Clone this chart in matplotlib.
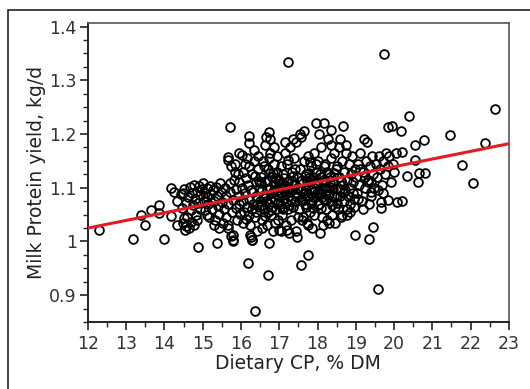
import matplotlib
matplotlib.use("Agg")
import matplotlib.pyplot as plt
from matplotlib.ticker import MultipleLocator, FuncFormatter
from matplotlib.patches import Rectangle

# dietary crude protein (% DM) and milk protein yield (kg/d), one pair per treatment mean
cp = [
    # sparse low-CP end
    12.28, 13.17, 13.48, 13.39, 13.66, 13.85, 13.86, 13.98, 14.16, 14.25, 14.18, 14.34, 14.34,
    14.49, 14.51, 14.53, 14.88, 15.37,
    # 14.4 - 15.0
    14.42, 14.45, 14.48, 14.50, 14.55, 14.57, 14.60, 14.62, 14.64, 14.66, 14.68, 14.70, 14.72,
    14.74, 14.76, 14.78, 14.80, 14.82, 14.84, 14.86, 14.88, 14.90, 14.92, 14.94,
    # 15.0 - 15.5
    14.97, 15.00, 15.02, 15.05, 15.07, 15.10, 15.12, 15.15, 15.17, 15.20, 15.22, 15.25, 15.27,
    15.30, 15.32, 15.35, 15.37, 15.40, 15.42, 15.45, 15.47, 15.50, 15.52, 15.55, 15.30, 15.43, 15.12,
    # 15.5 - 16.0
    15.57, 15.60, 15.62, 15.65, 15.67, 15.70, 15.72, 15.75, 15.77, 15.78, 15.80, 15.82, 15.84,
    15.86, 15.88, 15.90, 15.92, 15.94, 15.96, 15.98, 15.66, 15.74, 15.85, 15.95, 15.70, 15.67,
    15.67, 15.96, 16.03, 15.79, 15.79,
    # 16.0 - 16.5
    16.02, 16.04, 16.06, 16.08, 16.10, 16.12, 16.14, 16.16, 16.18, 16.20, 16.22, 16.24, 16.26,
    16.28, 16.30, 16.32, 16.34, 16.36, 16.38, 16.40, 16.42, 16.44, 16.46, 16.48, 16.05, 16.25,
    16.15, 16.35, 16.45, 16.28, 16.20, 16.40, 16.10, 16.21, 16.21, 16.18, 16.37, 16.23, 16.30,
    # 16.5 - 17.0
    16.50, 16.52, 16.54, 16.56, 16.58, 16.60, 16.62, 16.64, 16.66, 16.68, 16.70, 16.72, 16.74,
    16.76, 16.78, 16.80, 16.82, 16.84, 16.86, 16.88, 16.90, 16.92, 16.94, 16.96, 16.98, 16.55,
    16.65, 16.75, 16.85, 16.95, 16.60, 16.70, 16.80, 16.90, 16.57, 16.67, 16.77, 16.87, 16.97,
    16.63, 16.73, 16.83, 16.93, 16.71, 16.73, 16.72,
    # 17.0 - 17.5
    17.00, 17.02, 17.04, 17.06, 17.08, 17.10, 17.12, 17.14, 17.16, 17.18, 17.20, 17.22, 17.24,
    17.26, 17.28, 17.30, 17.32, 17.34, 17.36, 17.38, 17.40, 17.42, 17.44, 17.46, 17.48, 17.05,
    17.15, 17.25, 17.35, 17.45, 17.10, 17.20, 17.30, 17.40, 17.03, 17.13, 17.23, 17.33, 17.43,
    17.23, 17.47, 17.00, 17.20,
    # 17.5 - 18.0
    17.50, 17.52, 17.54, 17.56, 17.58, 17.60, 17.62, 17.64, 17.66, 17.68, 17.70, 17.72, 17.74,
    17.76, 17.78, 17.80, 17.82, 17.84, 17.86, 17.88, 17.90, 17.92, 17.94, 17.96, 17.98, 17.55,
    17.65, 17.75, 17.85, 17.60, 17.70, 17.80, 17.90, 17.57, 17.67, 17.77, 17.87, 17.97, 17.56,
    17.75, 17.95,
    # 18.0 - 18.5
    18.00, 18.02, 18.04, 18.06, 18.08, 18.10, 18.12, 18.14, 18.16, 18.18, 18.20, 18.22, 18.24,
    18.26, 18.28, 18.30, 18.32, 18.34, 18.36, 18.38, 18.40, 18.42, 18.44, 18.46, 18.48, 18.05,
    18.15, 18.25, 18.35, 18.45, 18.10, 18.20, 18.30, 18.40, 18.03, 18.13, 18.23, 18.33, 18.06,
    18.16, 18.35,
    # 18.5 - 19.0
    18.50, 18.52, 18.54, 18.56, 18.58, 18.60, 18.62, 18.64, 18.66, 18.68, 18.70, 18.72, 18.74,
    18.76, 18.78, 18.80, 18.82, 18.84, 18.86, 18.88, 18.90, 18.92, 18.94, 18.96, 18.98, 18.55,
    18.65, 18.75, 18.85, 18.95, 18.66, 18.77, 18.99,
    # 19.0 - 19.5
    19.00, 19.03, 19.06, 19.09, 19.12, 19.15, 19.18, 19.21, 19.24, 19.27, 19.30, 19.33, 19.36,
    19.39, 19.42, 19.45, 19.48, 19.05, 19.20, 19.35, 19.25, 19.10, 19.40, 19.34, 19.45, 19.41,
    19.32,
    # 19.5 and above
    19.52, 19.56, 19.60, 19.64, 19.68, 19.72, 19.76, 19.80, 19.84, 19.88, 19.92, 19.96, 20.00,
    20.05, 19.58, 19.70, 19.58, 19.75, 19.84, 19.95, 20.18, 20.38, 20.34, 20.09, 20.20, 19.84,
    19.65, 19.67, 20.20, 20.54, 20.78, 20.54, 20.65, 20.81, 20.62, 21.46, 21.78, 22.06, 22.37,
    22.65,
]

protein = [
    # sparse low-CP end
    1.022, 1.004, 1.031, 1.050, 1.059, 1.068, 1.053, 1.004, 1.099, 1.093, 1.048, 1.075, 1.031,
    1.091, 1.043, 1.022, 0.989, 0.998,
    # 14.4 - 15.0
    1.088, 1.062, 1.034, 1.097, 1.028, 1.071, 1.045, 1.083, 1.025, 1.102, 1.058, 1.037, 1.091,
    1.068, 1.030, 1.106, 1.079, 1.050, 1.094, 1.040, 1.072, 1.103, 1.086, 1.061,
    # 15.0 - 15.5
    1.097, 1.108, 1.075, 1.090, 1.058, 1.100, 1.082, 1.069, 1.045, 1.104, 1.088, 1.060, 1.095,
    1.076, 1.040, 1.101, 1.085, 1.066, 1.052, 1.108, 1.092, 1.074, 1.035, 1.060, 1.030, 1.026, 1.050,
    # 15.5 - 16.0
    1.100, 1.085, 1.045, 1.025, 1.070, 1.108, 1.092, 1.010, 1.055, 1.000, 1.078, 1.115, 1.130,
    1.062, 1.098, 1.040, 1.125, 1.085, 1.110, 1.052, 1.030, 1.140, 1.145, 1.070, 1.214, 1.158,
    1.152, 1.164, 1.161, 1.012, 1.003,
    # 16.0 - 16.5
    1.100, 1.075, 1.130, 1.055, 1.090, 1.118, 1.042, 1.065, 1.105, 1.140, 1.080, 1.030, 1.095,
    1.060, 1.125, 1.070, 1.150, 1.045, 1.110, 1.085, 1.020, 1.135, 1.065, 1.100, 1.035, 1.008,
    1.155, 1.170, 1.160, 1.002, 1.050, 1.055, 1.145, 1.197, 1.183, 0.960, 0.870, 1.012, 1.003,
    # 16.5 - 17.0
    1.075, 1.120, 1.040, 1.095, 1.150, 1.060, 1.110, 1.180, 1.085, 1.030, 1.135, 1.070, 1.100,
    1.165, 1.050, 1.120, 1.090, 1.020, 1.145, 1.078, 1.105, 1.060, 1.130, 1.040, 1.095, 1.025,
    1.195, 1.190, 1.175, 1.160, 1.140, 1.055, 1.065, 1.035, 1.083, 1.115, 1.080, 1.110, 1.072,
    1.048, 1.155, 1.128, 1.088, 0.938, 0.998, 1.203,
    # 17.0 - 17.5
    1.115, 1.070, 1.140, 1.090, 1.050, 1.125, 1.080, 1.165, 1.100, 1.030, 1.145, 1.060, 1.110,
    1.085, 1.175, 1.040, 1.130, 1.095, 1.065, 1.155, 1.105, 1.075, 1.185, 1.120, 1.045, 1.020,
    1.185, 1.015, 1.190, 1.020, 1.060, 1.098, 1.078, 1.135, 1.102, 1.118, 1.152, 1.112, 1.090,
    1.334, 1.009, 1.022, 1.022,
    # 17.5 - 18.0
    1.100, 1.060, 1.135, 1.080, 1.195, 1.115, 1.045, 1.150, 1.090, 1.070, 1.125, 1.035, 1.105,
    1.160, 1.085, 1.055, 1.140, 1.095, 1.075, 1.120, 1.165, 1.050, 1.110, 1.130, 1.090, 1.200,
    1.205, 1.030, 1.025, 1.040, 1.065, 1.148, 1.100, 1.098, 1.122, 1.118, 1.062, 1.145, 0.956,
    0.975, 1.220,
    # 18.0 - 18.5
    1.105, 1.150, 1.070, 1.125, 1.090, 1.175, 1.045, 1.115, 1.140, 1.080, 1.100, 1.060, 1.130,
    1.095, 1.190, 1.035, 1.120, 1.075, 1.155, 1.050, 1.110, 1.085, 1.165, 1.065, 1.135, 1.200,
    1.030, 1.040, 1.180, 1.035, 1.120, 1.145, 1.088, 1.098, 1.088, 1.098, 1.112, 1.102, 1.015,
    1.220, 1.208,
    # 18.5 - 19.0
    1.100, 1.140, 1.060, 1.120, 1.085, 1.190, 1.045, 1.150, 1.105, 1.075, 1.130, 1.095, 1.165,
    1.060, 1.115, 1.085, 1.145, 1.100, 1.070, 1.125, 1.160, 1.090, 1.110, 1.080, 1.135, 1.175,
    1.050, 1.180, 1.055, 1.065, 1.215, 1.050, 1.012,
    # 19.0 - 19.5
    1.120, 1.090, 1.145, 1.105, 1.165, 1.075, 1.130, 1.190, 1.100, 1.150, 1.185, 1.115, 1.140,
    1.085, 1.160, 1.125, 1.100, 1.080, 1.060, 1.070, 1.120, 1.135, 1.110, 1.004, 1.027, 1.093,
    1.110,
    # 19.5 and above
    1.145, 1.120, 1.160, 1.135, 1.105, 1.150, 1.125, 1.165, 1.140, 1.160, 1.110, 1.145, 1.130,
    1.165, 1.095, 1.090, 0.911, 1.349, 1.214, 1.215, 1.205, 1.234, 1.121, 1.074, 1.076, 1.077,
    1.074, 1.062, 1.167, 1.180, 1.189, 1.152, 1.127, 1.127, 1.111, 1.198, 1.143, 1.108, 1.183,
    1.247,
]

# extra points packed into the dense centre of the cloud
core_cp = [
    16.31, 16.41, 16.51, 16.61, 16.69, 16.79, 16.89, 16.99, 17.07, 17.17, 17.27, 17.37, 17.47,
    17.59, 17.69, 17.79, 17.89, 17.99, 18.09, 18.19, 18.29, 18.39, 18.49, 18.59, 18.69,
    16.36, 16.46, 16.56, 16.66, 16.76, 16.86, 16.96, 17.06, 17.16, 17.26, 17.36, 17.46, 17.62,
    17.72, 17.82, 17.92, 18.02, 18.12, 18.22, 18.32, 18.42, 18.52, 18.62,
]
core_protein = [
    1.092, 1.068, 1.108, 1.082, 1.098, 1.058, 1.118, 1.085, 1.108, 1.072, 1.092, 1.122, 1.098,
    1.075, 1.095, 1.128, 1.082, 1.108, 1.062, 1.088, 1.125, 1.068, 1.082, 1.098, 1.092,
    1.122, 1.112, 1.068, 1.075, 1.128, 1.095, 1.112, 1.062, 1.092, 1.068, 1.105, 1.082, 1.088,
    1.112, 1.072, 1.092, 1.068, 1.082, 1.078, 1.108, 1.128, 1.072, 1.112,
]

# fitted regression line, end points
fit_x = [12, 23]
fit_y = [1.025, 1.182]

fig = plt.figure(figsize=(5.30, 3.89), dpi=100)
ax = fig.add_axes([0.166, 0.172, 0.794, 0.768])

ax.plot(cp + core_cp, protein + core_protein, linestyle="none", marker="o", markersize=6.3,
        markerfacecolor="none", markeredgecolor="black", markeredgewidth=1.3, zorder=2)
ax.plot(fit_x, fit_y, color="#e41b1f", linewidth=2.2, zorder=3)

ax.set_xlim(12, 23)
ax.set_ylim(0.85, 1.406)
ax.xaxis.set_major_locator(MultipleLocator(1))
ax.xaxis.set_minor_locator(MultipleLocator(0.5))
ax.yaxis.set_major_locator(MultipleLocator(0.1))
ax.yaxis.set_minor_locator(MultipleLocator(0.025))
ax.yaxis.set_major_formatter(FuncFormatter(lambda v, p: "%g" % round(v, 2)))

ax.tick_params(which="major", direction="out", length=6, width=1.2, colors="#222222",
               labelsize=12.5, labelcolor="#333333")
ax.tick_params(which="minor", direction="out", length=3.5, width=1.0, colors="#222222")
ax.tick_params(axis="x", pad=3)
ax.tick_params(axis="y", pad=2)

for side in ["left", "bottom"]:
    ax.spines[side].set_color("#222222")
    ax.spines[side].set_linewidth(1.4)
for side in ["top", "right"]:
    ax.spines[side].set_color("#555555")
    ax.spines[side].set_linewidth(1.2)

ax.set_xlabel("Dietary CP, % DM", fontsize=13.5, color="#222222", labelpad=1)
ax.set_ylabel("Milk Protein yield, kg/d", fontsize=13.5, color="#222222", labelpad=2)

# frame around the whole panel, running off the right and bottom edges
fig.patches.append(Rectangle((0.015, -0.1), 1.2, 1.074, transform=fig.transFigure,
                             fill=False, edgecolor="#222222", linewidth=1.2))

fig.savefig("out.png", dpi=100)
